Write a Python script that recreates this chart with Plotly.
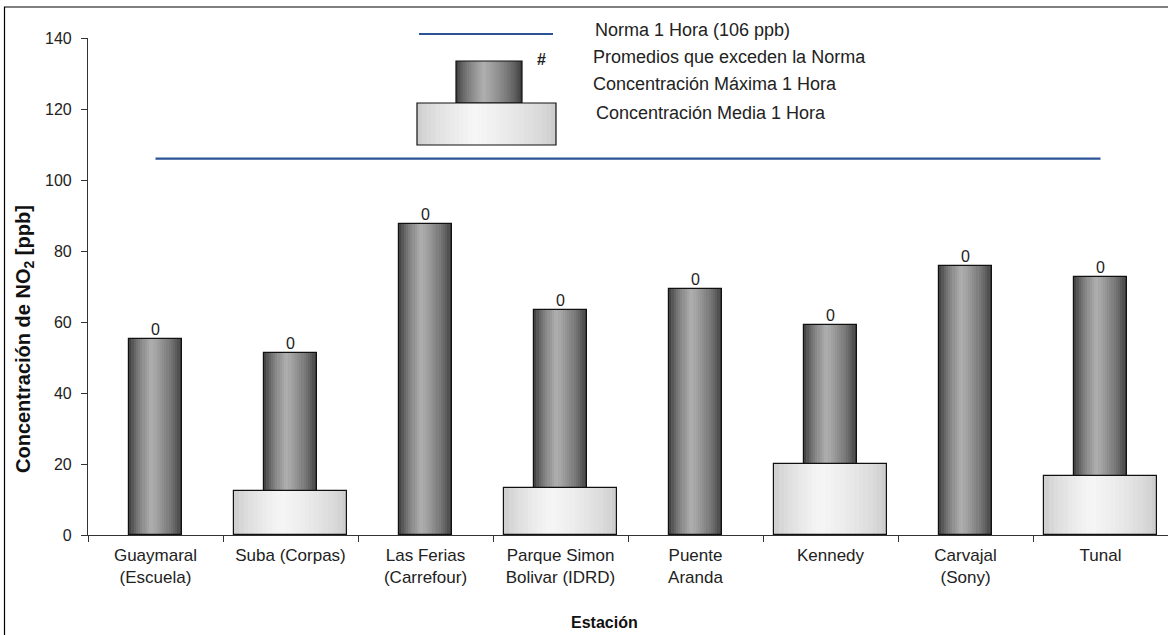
import plotly.graph_objects as go

# ---------------- data ----------------
stations = ["Guaymaral<br>(Escuela)", "Suba (Corpas)", "Las Ferias<br>(Carrefour)",
            "Parque Simon<br>Bolivar (IDRD)", "Puente<br>Aranda", "Kennedy",
            "Carvajal<br>(Sony)", "Tunal"]
max_1h = [55.3, 51.2, 87.7, 63.3, 69.3, 59.2, 75.8, 72.7]
mean_1h = [None, 12.4, None, 13.2, None, 20.0, None, 16.6]
exceed = [0, 0, 0, 0, 0, 0, 0, 0]
norma = [106] * len(stations)
y_ticks = [0, 20, 40, 60, 80, 100, 120, 140]

# ---------------- layout geometry ----------------
W, H = 1168, 635
L, R, T, B = 88, 0, 38, 100
PW, PH = W - L - R, H - T - B


def px(x):
    return (x - L) / PW


def py(y):
    return (H - B - y) / PH


FONT = "Arial, Liberation Sans, sans-serif"


def mix(c1, c2, t):
    return "rgb(%d,%d,%d)" % tuple(round(a + (b - a) * t) for a, b in zip(c1, c2))


def profile(u, peak=0.42):
    if u <= peak:
        return (u / peak) ** 0.6
    return ((1 - u) / (1 - peak)) ** 0.6


DARK_EDGE, DARK_MID = (48, 48, 48), (175, 175, 175)
LIGHT_EDGE, LIGHT_MID = (200, 200, 200), (246, 246, 246)

fig = go.Figure()

N = 24


def gradient_bars(yvals, width, edge, mid):
    s = width / N
    for i in range(N):
        off = -width / 2 + i * s
        w = min(s * 1.4, width / 2 - off)
        u = (i + 0.5) / N
        fig.add_trace(go.Bar(x=stations, y=yvals, width=w, offset=off,
                             marker=dict(color=mix(edge, mid, profile(u)), line=dict(width=0)),
                             showlegend=False, hoverinfo="skip"))
    fig.add_trace(go.Bar(x=stations, y=yvals, width=width, offset=-width / 2,
                         marker=dict(color="rgba(0,0,0,0)", line=dict(color="#111", width=1.2)),
                         showlegend=False, hoverinfo="skip"))


DW, LW = 0.39, 0.83
gradient_bars(max_1h, DW, DARK_EDGE, DARK_MID)
gradient_bars(mean_1h, LW, LIGHT_EDGE, LIGHT_MID)

fig.add_trace(go.Scatter(x=stations, y=max_1h, mode="text", text=[str(v) for v in exceed],
                         textposition="top center", textfont=dict(family=FONT, size=16, color="#222"),
                         showlegend=False, hoverinfo="skip", cliponaxis=False))

fig.add_trace(go.Scatter(x=stations, y=norma, mode="lines",
                         line=dict(color="#2B5396", width=2.2), showlegend=False, hoverinfo="skip"))

shapes = []
# outer frame
shapes.append(dict(type="rect", xref="paper", yref="paper", x0=px(4.5), x1=px(1175),
                   y0=py(645), y1=py(7), line=dict(color="#000", width=1.2), fillcolor="rgba(0,0,0,0)",
                   layer="below"))
# legend: norma line
shapes.append(dict(type="line", xref="paper", yref="paper", x0=px(419), x1=px(553),
                   y0=py(34), y1=py(34), line=dict(color="#2B5396", width=2.2)))


def legend_box(x0, x1, y0, y1, edge, mid):
    n = 30
    s = (x1 - x0) / n
    for i in range(n):
        u = (i + 0.5) / n
        shapes.append(dict(type="rect", xref="paper", yref="paper",
                           x0=px(x0 + i * s), x1=px(min(x0 + (i + 1.4) * s, x1)),
                           y0=py(y1), y1=py(y0), line=dict(width=0),
                           fillcolor=mix(edge, mid, profile(u))))
    shapes.append(dict(type="rect", xref="paper", yref="paper", x0=px(x0), x1=px(x1),
                       y0=py(y1), y1=py(y0), line=dict(color="#111", width=1.2),
                       fillcolor="rgba(0,0,0,0)"))


legend_box(456, 522, 61, 103, DARK_EDGE, DARK_MID)
legend_box(417, 556, 103, 145, LIGHT_EDGE, LIGHT_MID)

annotations = []
leg_items = [("Norma 1 Hora (106 ppb)", 593, 30), ("Promedios que exceden la Norma", 591, 57),
             ("Concentración Máxima 1 Hora", 591, 84), ("Concentración Media 1 Hora", 594, 113)]
for txt, x, y in leg_items:
    annotations.append(dict(text=txt, xref="paper", yref="paper", x=px(x), y=py(y),
                            xanchor="left", yanchor="middle", showarrow=False,
                            font=dict(family=FONT, size=18, color="#222")))
annotations.append(dict(text="<b>#</b>", xref="paper", yref="paper", x=px(541), y=py(60),
                        xanchor="center", yanchor="middle", showarrow=False,
                        font=dict(family=FONT, size=16, color="#222")))
annotations.append(dict(text="<b>Concentración de NO<sub>2</sub> [ppb]</b>", xref="paper", yref="paper",
                        x=px(24), y=py(339), textangle=-90, xanchor="center", yanchor="middle",
                        showarrow=False, font=dict(family=FONT, size=20, color="#111")))
annotations.append(dict(text="<b>Estación</b>", xref="paper", yref="paper",
                        x=px(604), y=py(622), xanchor="center", yanchor="middle",
                        showarrow=False, font=dict(family=FONT, size=16, color="#111")))

fig.update_layout(
    width=W, height=H, margin=dict(l=L, r=R, t=T, b=B),
    paper_bgcolor="white", plot_bgcolor="white",
    barmode="overlay", bargap=0,
    shapes=shapes, annotations=annotations,
    font=dict(family=FONT, size=16, color="#222"),
    xaxis=dict(type="category", range=[-0.5, 7.5], showline=True, linecolor="#333", linewidth=1.2,
               ticks="outside", tickson="boundaries", ticklen=6, tickcolor="#333",
               ticklabelstandoff=4,
               showgrid=False, zeroline=False, tickfont=dict(family=FONT, size=17, color="#222")),
    yaxis=dict(range=[0, 140], tickvals=y_ticks, showline=True, linecolor="#333", linewidth=1.2,
               ticks="outside", ticklen=6, tickcolor="#333", showgrid=False, zeroline=False,
               ticklabelstandoff=6,
               tickfont=dict(family=FONT, size=16, color="#222")),
)

fig.write_html("out.html", config={"displayModeBar": False},
               post_script="document.body.style.margin='0';document.body.style.overflow='hidden';")
